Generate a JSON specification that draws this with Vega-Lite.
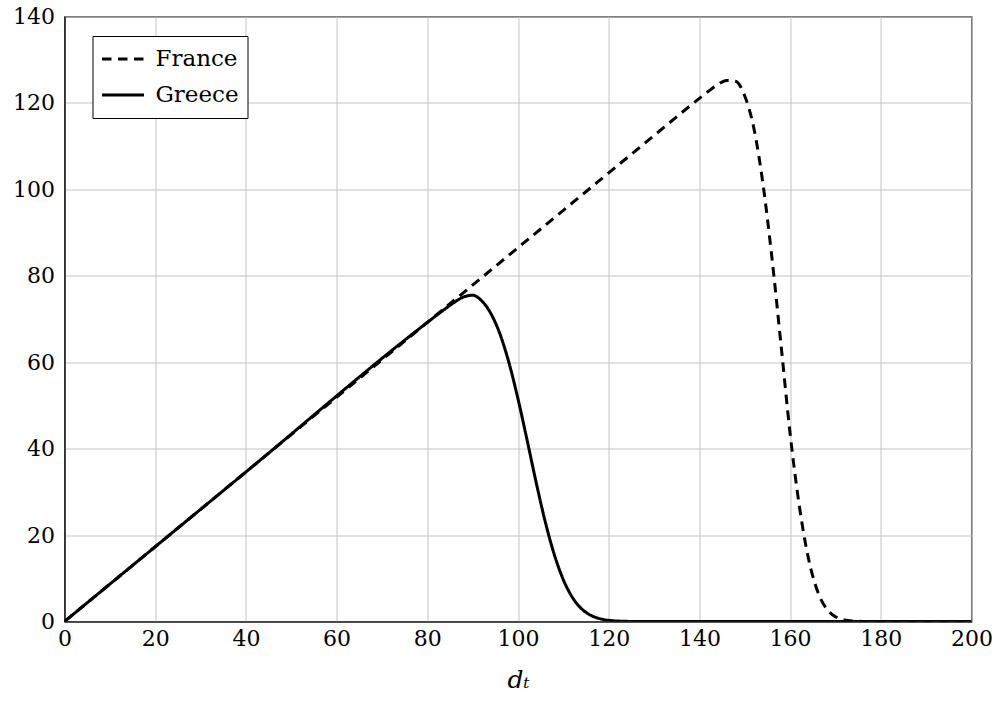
{
  "$schema": "https://vega.github.io/schema/vega-lite/v6.json",
  "width": 907,
  "height": 605,
  "autosize": {"type": "none"},
  "padding": {"left": 64.5, "top": 16.5, "right": 28, "bottom": 82},
  "background": "white",
  "config": {
    "font": "DejaVu Serif",
    "view": {"stroke": "black", "strokeWidth": 1.2},
    "axis": {
      "labelFont": "DejaVu Serif",
      "labelFontSize": 22,
      "labelColor": "black",
      "titleFont": "DejaVu Serif",
      "titleColor": "black",
      "gridColor": "#c4c4c4",
      "gridWidth": 1,
      "domainColor": "black",
      "domainWidth": 1.2,
      "ticks": false
    }
  },
  "data": {
    "values": [
      {"country": "France", "d": 0, "v": 0},
      {"country": "France", "d": 40, "v": 34.6},
      {"country": "France", "d": 80, "v": 69.2},
      {"country": "France", "d": 110, "v": 95.15},
      {"country": "France", "d": 130, "v": 112.45},
      {"country": "France", "d": 140, "v": 121.06},
      {"country": "France", "d": 142, "v": 122.7},
      {"country": "France", "d": 144, "v": 124.2},
      {"country": "France", "d": 146, "v": 125.2},
      {"country": "France", "d": 148, "v": 125.0},
      {"country": "France", "d": 150, "v": 121.6},
      {"country": "France", "d": 152, "v": 114.2},
      {"country": "France", "d": 154, "v": 101.4},
      {"country": "France", "d": 156, "v": 84.1},
      {"country": "France", "d": 158, "v": 64.0},
      {"country": "France", "d": 160, "v": 43.5},
      {"country": "France", "d": 162, "v": 27.0},
      {"country": "France", "d": 164, "v": 14.8},
      {"country": "France", "d": 166, "v": 7.15},
      {"country": "France", "d": 168, "v": 3.0},
      {"country": "France", "d": 170, "v": 1.11},
      {"country": "France", "d": 172, "v": 0.35},
      {"country": "France", "d": 174, "v": 0.1},
      {"country": "France", "d": 176, "v": 0.02},
      {"country": "France", "d": 180, "v": 0},
      {"country": "France", "d": 200, "v": 0},
      {"country": "Greece", "d": 0, "v": 0},
      {"country": "Greece", "d": 40, "v": 34.6},
      {"country": "Greece", "d": 80, "v": 69.2},
      {"country": "Greece", "d": 84, "v": 72.4},
      {"country": "Greece", "d": 86, "v": 73.9},
      {"country": "Greece", "d": 88, "v": 75.1},
      {"country": "Greece", "d": 90, "v": 75.5},
      {"country": "Greece", "d": 92, "v": 74.2},
      {"country": "Greece", "d": 94, "v": 71.3},
      {"country": "Greece", "d": 96, "v": 66.6},
      {"country": "Greece", "d": 98, "v": 59.9},
      {"country": "Greece", "d": 100, "v": 51.5},
      {"country": "Greece", "d": 102, "v": 42.0},
      {"country": "Greece", "d": 104, "v": 32.2},
      {"country": "Greece", "d": 106, "v": 23.1},
      {"country": "Greece", "d": 108, "v": 15.5},
      {"country": "Greece", "d": 110, "v": 9.65},
      {"country": "Greece", "d": 112, "v": 5.57},
      {"country": "Greece", "d": 114, "v": 2.96},
      {"country": "Greece", "d": 116, "v": 1.46},
      {"country": "Greece", "d": 118, "v": 0.66},
      {"country": "Greece", "d": 120, "v": 0.27},
      {"country": "Greece", "d": 122, "v": 0.11},
      {"country": "Greece", "d": 125, "v": 0.02},
      {"country": "Greece", "d": 130, "v": 0},
      {"country": "Greece", "d": 200, "v": 0}
    ]
  },
  "mark": {"type": "line", "interpolate": "monotone", "color": "black", "strokeWidth": 3, "clip": true},
  "encoding": {
    "x": {
      "field": "d",
      "type": "quantitative",
      "scale": {"domain": [0, 200], "nice": false},
      "axis": {"values": [0, 20, 40, 60, 80, 100, 120, 140, 160, 180, 200], "labelPadding": 7, "title": "dₜ", "titleFontSize": 25, "titleFontStyle": "italic", "titleFontWeight": "normal", "titlePadding": 18, "labelFlush": false}
    },
    "y": {
      "field": "v",
      "type": "quantitative",
      "scale": {"domain": [0, 140], "nice": false},
      "axis": {"values": [0, 20, 40, 60, 80, 100, 120, 140], "labelPadding": 10, "title": null}
    },
    "strokeDash": {
      "field": "country",
      "type": "nominal",
      "scale": {"domain": ["France", "Greece"], "range": [[9.5, 6.5], [1, 0]]},
      "legend": {
        "title": null,
        "orient": "none",
        "legendX": 28,
        "legendY": 19.5,
        "strokeColor": "black",
        "fillColor": "white",
        "padding": 8,
        "cornerRadius": 0,
        "symbolType": "stroke",
        "symbolSize": 1764,
        "symbolStrokeWidth": 3,
        "symbolStrokeColor": "black",
        "labelFont": "DejaVu Serif",
        "labelFontSize": 23,
        "labelColor": "black",
        "labelOffset": 10,
        "clipHeight": 30,
        "rowPadding": 6
      }
    }
  }
}
